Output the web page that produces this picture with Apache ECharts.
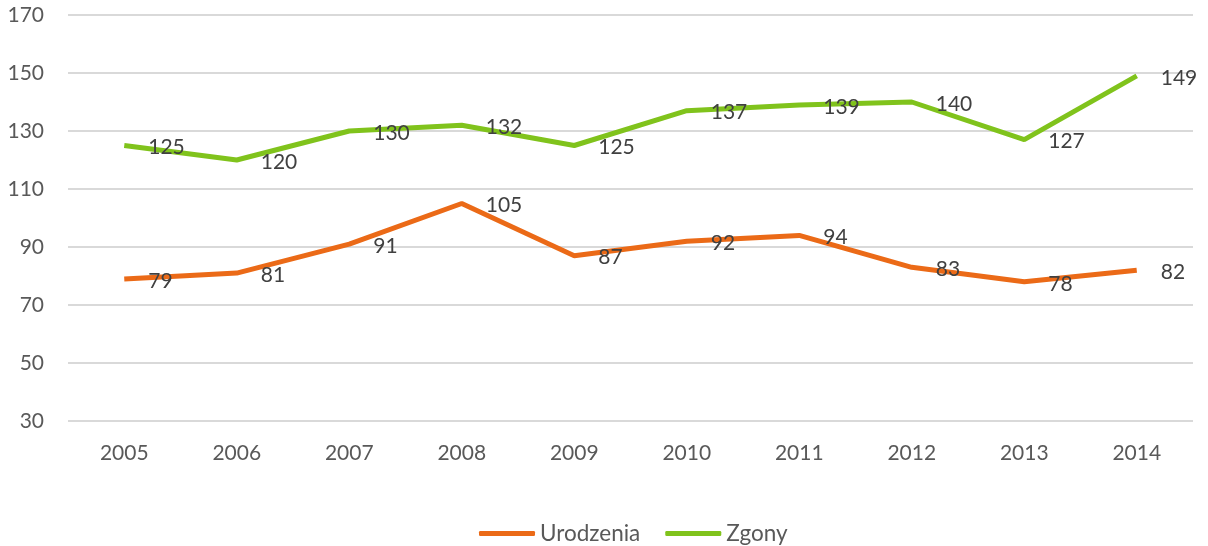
<!DOCTYPE html>
<html>
<head>
<meta charset="utf-8">
<script src="https://cdn.jsdelivr.net/npm/echarts@6/dist/echarts.min.js"></script>
<style>
  html, body { margin: 0; padding: 0; background: #fff; }
  #chart { width: 1208px; height: 546px; }
</style>
</head>
<body>
<div id="chart"></div>
<script>
var years = ['2005', '2006', '2007', '2008', '2009', '2010', '2011', '2012', '2013', '2014'];
var urodzenia = [79, 81, 91, 105, 87, 92, 94, 83, 78, 82];
var zgony = [125, 120, 130, 132, 125, 137, 139, 140, 127, 149];

var font = 'Lato, "Open Sans", sans-serif';

function lineSeries(name, data, color) {
  return {
    name: name,
    type: 'line',
    data: data,
    symbol: 'circle',
    symbolSize: 8,
    itemStyle: { color: 'rgba(0,0,0,0)', borderWidth: 0 },
    lineStyle: { color: color, width: 5 },
    label: {
      show: true,
      position: 'right',
      distance: 20,
      offset: [0, 2],
      color: '#404040',
      fontSize: 21,
      fontFamily: font
    },
    emphasis: { disabled: true },
    animation: false
  };
}

var myChart = echarts.init(document.getElementById('chart'));
var option = {
  backgroundColor: '#fff',
  grid: { left: 68, right: 15, top: 15, bottom: 125 },
  legend: {
    top: 517,
    left: 474,
    itemWidth: 56,
    itemHeight: 5,
    itemGap: 25,
    icon: 'roundRect',
    textStyle: { color: '#595959', fontSize: 22.5, fontFamily: font },
    data: [
      { name: 'Urodzenia', itemStyle: { color: '#EB6A17' } },
      { name: 'Zgony', itemStyle: { color: '#80C31C' } }
    ]
  },
  xAxis: {
    type: 'category',
    data: years,
    boundaryGap: true,
    axisLine: { show: false },
    axisTick: { show: false },
    axisLabel: { color: '#595959', fontSize: 21, fontFamily: font, margin: 22 }
  },
  yAxis: {
    type: 'value',
    min: 30,
    max: 170,
    interval: 20,
    axisLine: { show: false },
    axisTick: { show: false },
    splitLine: { lineStyle: { color: '#D9D9D9', width: 2 } },
    axisLabel: { color: '#595959', fontSize: 21, fontFamily: font, margin: 24 }
  },
  series: [
    lineSeries('Urodzenia', urodzenia, '#EB6A17'),
    lineSeries('Zgony', zgony, '#80C31C')
  ]
};
myChart.setOption(option);
</script>
</body>
</html>
